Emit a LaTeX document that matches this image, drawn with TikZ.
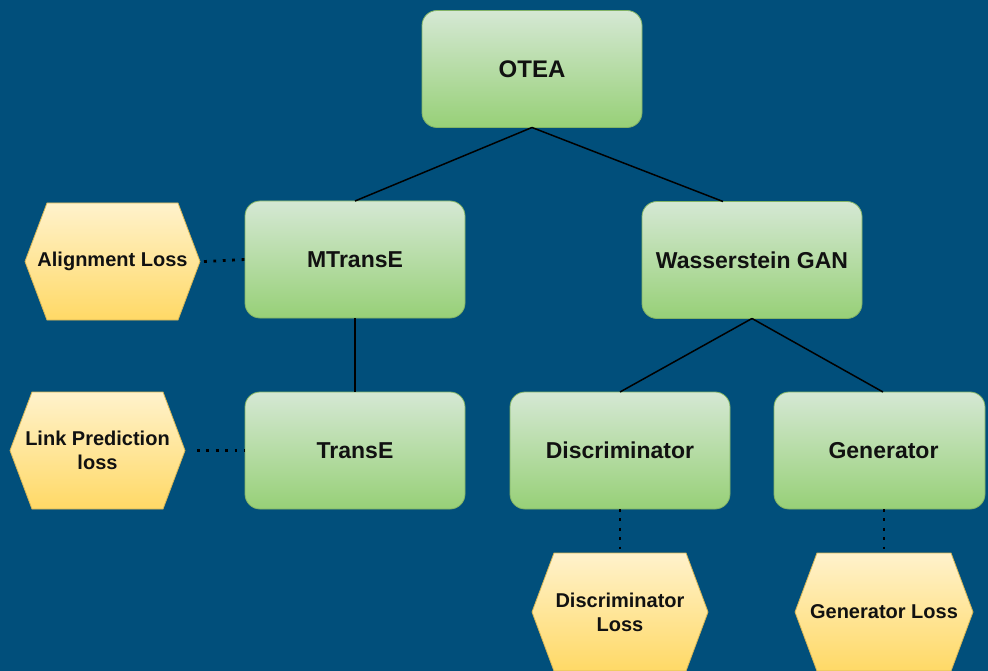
\documentclass[tikz,border=0pt]{standalone}
\usepackage{fontspec}
\setmainfont{Liberation Sans}
\usetikzlibrary{calc}
\pgfdeclarelayer{background}
\pgfsetlayers{background,main}

\definecolor{bgblue}{HTML}{014F7B}
\definecolor{boxtop}{HTML}{D5E8D4}
\definecolor{boxbot}{HTML}{97D077}
\definecolor{boxline}{HTML}{82B366}
\definecolor{hextop}{HTML}{FFF2CC}
\definecolor{hexbot}{HTML}{FFD966}
\definecolor{hexline}{HTML}{D6B656}
\definecolor{ink}{HTML}{111111}

\tikzset{
  box/.style={rectangle, rounded corners=15pt, draw=boxline, line width=0.8pt,
    top color=boxtop, bottom color=boxbot, minimum width=220pt, minimum height=117pt,
    outer sep=0pt, inner sep=0pt, text=ink, align=center,
    font=\fontsize{23}{27}\selectfont\bfseries},
  hexbox/.style={rectangle, minimum width=176pt, minimum height=117pt,
    outer sep=0pt, inner sep=0pt, text=ink, align=center,
    font=\fontsize{20}{24}\selectfont\bfseries},
  link/.style={draw=black, line width=1.5pt},
  dots/.style={draw=black, line width=2.8pt, dash pattern=on 2.8pt off 6.6pt},
}

% shaded hexagon behind a hexbox node, corners cut in by #1
\newcommand\drawhexagon[2][22pt]{%
  \begin{pgfonlayer}{background}
    \path[draw=hexline, line width=0.8pt, top color=hextop, bottom color=hexbot]
      (#2.west) -- ([xshift=#1]#2.north west) -- ([xshift=-#1]#2.north east)
      -- (#2.east) -- ([xshift=-#1]#2.south east) -- ([xshift=#1]#2.south west) -- cycle;
  \end{pgfonlayer}}

\begin{document}
\begin{tikzpicture}[x=1pt,y=-1pt]
  \useasboundingbox (0,0) rectangle (988,671);
  \begin{pgfonlayer}{background}
    \fill[bgblue] (0,0) rectangle (988,671);
  \end{pgfonlayer}

  % model tree
  \node[box, font=\fontsize{24}{28}\selectfont\bfseries] (otea) at (532,69) {OTEA};
  \node[box] (mtranse) at (355,259.5) {MTransE};
  \node[box] (wgan) at (752,260) {Wasserstein GAN};
  \node[box] (transe) at (355,450.5) {TransE};
  \node[box] (disc) at (620,450.5) {Discriminator};
  \node[box, minimum width=211pt] (gen) at (879.5,450.5) {\hspace*{8pt}Generator};

  % losses
  \node[hexbox, minimum width=175pt] (al) at (112.5,261.5) {Alignment Loss};
  \node[hexbox, minimum width=175pt] (lp) at (97.5,450.5) {Link Prediction\\loss};
  \node[hexbox, minimum height=118pt] (dl) at (620,612) {Discriminator\\Loss};
  \node[hexbox, minimum width=178pt, minimum height=118pt] (gl) at (884,612) {Generator Loss};
  \drawhexagon{al}
  \drawhexagon{lp}
  \drawhexagon{dl}
  \drawhexagon{gl}

  % tree edges
  \draw[link] (otea.south) -- (mtranse.north);
  \draw[link] (otea.south) -- ([xshift=-29pt]wgan.north);
  \draw[link] (mtranse.south) -- (transe.north);
  \draw[link] (wgan.south) -- (disc.north);
  \draw[link] (wgan.south) -- ([xshift=3.5pt]gen.north);

  % loss links
  \draw[dots] ([xshift=4pt]al.east) -- (mtranse.west);
  \draw[dots] ([xshift=12pt]lp.east) -- (transe.west);
  \draw[dots] (disc.south) -- (dl.north);
  \draw[dots] (gl.north |- gen.south) -- (gl.north);
\end{tikzpicture}
\end{document}
